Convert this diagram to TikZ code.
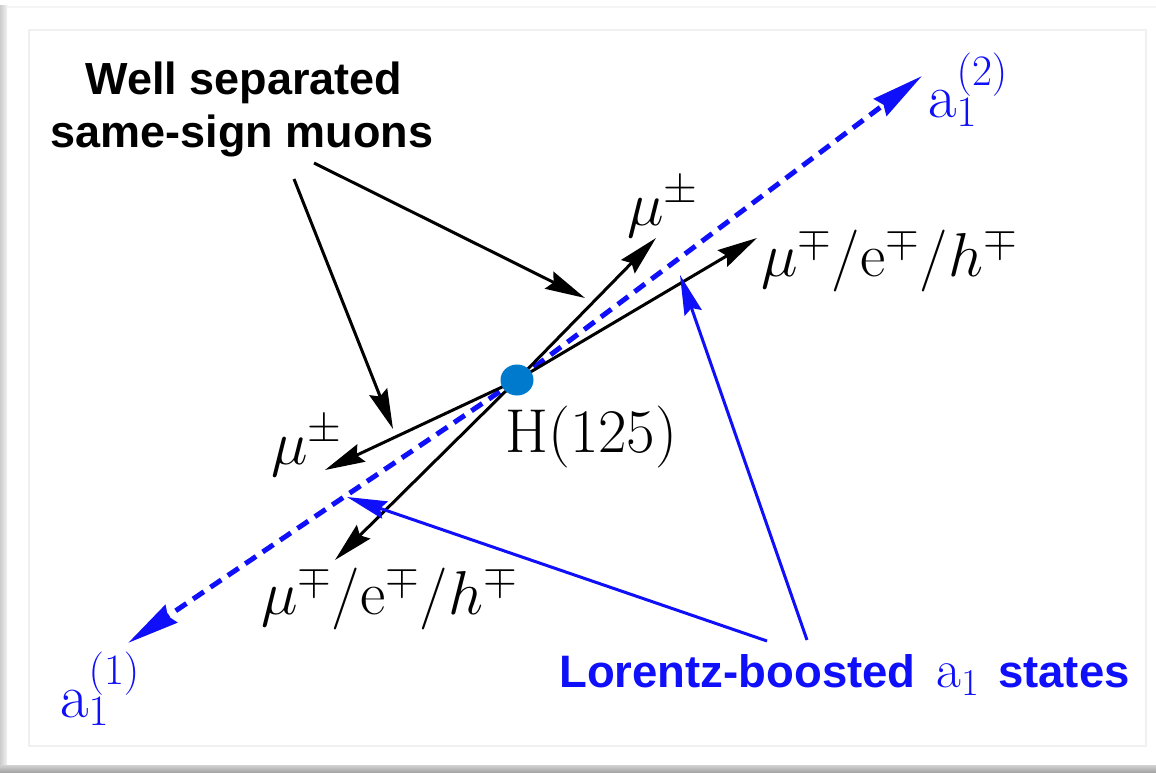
\RequirePackage{fix-cm}
\documentclass[tikz,border=0pt]{standalone}
\usepackage{fontspec}
\setsansfont{Liberation Sans}
\usetikzlibrary{arrows.meta,shapes.geometric}
\definecolor{dotblue}{RGB}{0,122,204}
\definecolor{pblue}{RGB}{15,15,250}
\tikzset{
  blk/.style={line width=3pt, -{Stealth[length=40pt,width=19pt,inset=5pt]}},
  bluann/.style={pblue, line width=3pt, -{Stealth[length=40pt,width=18pt,inset=5pt]}},
  bdash/.style={pblue, line width=5pt, dash pattern=on 13pt off 8pt, -{Stealth[length=52pt,width=21pt,inset=4pt]}},
  mlab/.style={anchor=base west, inner sep=0pt, font=\fontsize{62}{66}\selectfont},
  slab/.style={anchor=base, inner sep=0pt, font=\sffamily\bfseries\fontsize{45}{52}\selectfont},
}
\begin{document}
\begin{tikzpicture}[x=1pt,y=-1pt]
\useasboundingbox (0,0) rectangle (1156,773);
% frame
\fill[white] (0,0) rectangle (1156,773);
\shade[left color=gray!40, right color=gray!10] (0,6) rectangle (7,773);
\draw[gray!8, line width=1.5pt] (7,7) -- (1156,7);
\shade[top color=gray!35, bottom color=gray!75] (0,765) rectangle (1156,773);
\draw[gray!12, line width=1.5pt] (29,30) rectangle (1146,746);

% centre and ends
\coordinate (h) at (517,380);
\coordinate (a2tip) at (922,76);
\coordinate (a1tip) at (128,643);
\coordinate (mupu) at (656,238);
\coordinate (mumu) at (757,238);
\coordinate (mupl) at (325,470);
\coordinate (muml) at (335,560);

% a1 directions
\draw[bdash] (h) -- (a2tip);
\draw[bdash] (h) -- (a1tip);
% decay products
\draw[blk] (h) -- (mupu);
\draw[blk] (h) -- (mumu);
\draw[blk] (h) -- (mupl);
\draw[blk] (h) -- (muml);

\node[ellipse, fill=dotblue, minimum width=33pt, minimum height=31pt, inner sep=0pt] (dot) at (h) {};

% labels
\node[mlab] (lmupu) at (627,225) {$\mu^{\pm}$};
\node[mlab] (lmumu) at (761,276) {$\mu^{\mp}/\mathrm{e}^{\mp}/h^{\mp}$};
\node[mlab] (lmupl) at (271,464) {$\mu^{\pm}$};
\node[mlab] (lmuml) at (261,614) {$\mu^{\mp}/\mathrm{e}^{\mp}/h^{\mp}$};
\node[mlab] (lH) at (505,452) {$\mathrm{H}(125)$};
\node[mlab, text=pblue] (la2) at (928,118) {$\mathrm{a}_1^{(2)}$};
\node[mlab, text=pblue] (la1) at (60,717) {$\mathrm{a}_1^{(1)}$};

% well separated
\node[slab] (ws1) at (244,95) {Well separated};
\node[slab] (ws2) at (242,147) {same-sign muons};
\coordinate (wsA) at (294,179);
\coordinate (wsB) at (314,163);
\coordinate (wsAt) at (393,429);
\coordinate (wsBt) at (585,298);
\draw[blk] (wsA) -- (wsAt);
\draw[blk] (wsB) -- (wsBt);

% Lorentz-boosted
\node[anchor=base west, inner sep=0pt, text=pblue, font=\sffamily\bfseries\fontsize{45.5}{52}\selectfont] (lb) at (559,687) {Lorentz-boosted\hspace{21pt}{\fontsize{54}{60}\selectfont$\mathrm{a}_1$}\hspace{19pt}states};
\coordinate (lbA) at (767,641);
\coordinate (lbB) at (807,640);
\coordinate (lbAt) at (347,497);
\coordinate (lbBt) at (680,275);
\draw[bluann] (lbA) -- (lbAt);
\draw[bluann] (lbB) -- (lbBt);
\end{tikzpicture}
\end{document}
